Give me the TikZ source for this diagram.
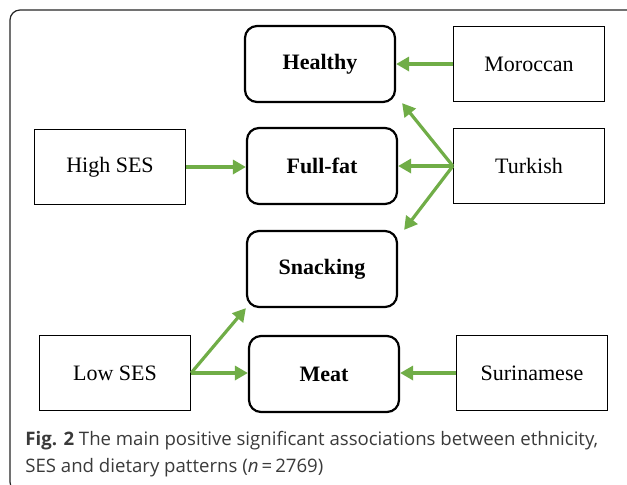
\documentclass[tikz,border=0pt]{standalone}
\usepackage{fontspec}
\setmainfont{Liberation Serif}
\newfontfamily\captionfont{Open Sans}
\usetikzlibrary{arrows.meta}
\definecolor{assocgreen}{HTML}{70AD47}
\definecolor{captiongray}{HTML}{3A3A3A}

\begin{document}
\begin{tikzpicture}[x=0.5pt, y=-0.5pt,
    factorbox/.style={rectangle, draw, line width=0.6pt, minimum width=75.5pt, minimum height=37.5pt, font=\fontsize{11}{13}\selectfont},
    dietbox/.style={rectangle, draw, rounded corners=6pt, line width=1.1pt, minimum width=75pt, minimum height=38pt, font=\fontsize{11}{13}\selectfont\bfseries},
    assoc/.style={draw=assocgreen, line width=1.6pt, -{Triangle[length=6.5pt,width=7pt]}}]
    \useasboundingbox (0,0) rectangle (627,484);
    % Frame
    \draw[black!85, line width=0.6pt, rounded corners=5pt] (10,10) rectangle (640,492);
    
    % Dietary patterns
    \node[dietbox] (healthy) at (320,64) {Healthy};
    \node[dietbox] (fullfat) at (322,166) {Full-fat};
    \node[dietbox] (snacking) at (322,269) {Snacking};
    \node[dietbox] (meat) at (324,374) {Meat};
    
    % Ethnicity and SES
    \node[factorbox] (moroccan) at (529,64) {Moroccan};
    \node[factorbox] (turkish) at (529,166) {Turkish};
    \node[factorbox] (surinamese) at (532,373) {Surinamese};
    \node[factorbox] (highses) at (110,167) {High SES};
    \node[factorbox] (lowses) at (115,373) {Low SES};
    
    % Arrow ends off the box corners
    \coordinate (healthytip) at ([xshift=3pt]healthy.south east);
    \coordinate (snackingtip) at ([xshift=3pt]snacking.north east);
    
    % Associations
    \foreach \a/\b in {moroccan.west/healthy.east,
                       highses.east/{highses.east -| fullfat.west},
                       turkish.west/fullfat.east,
                       turkish.west/healthytip,
                       turkish.west/snackingtip,
                       lowses.east/snacking.south west,
                       lowses.east/{lowses.east -| meat.west},
                       surinamese.west/{surinamese.west -| meat.east}} {
        \draw[assoc] (\a) -- (\b);
    }
    
    % Caption
    \node[anchor=base west, align=left, inner sep=0pt, text=captiongray,
          font=\captionfont\fontsize{9.3}{13.5}\selectfont] (caption) at (25,472)
        {\textbf{Fig. 2} The main positive significant associations between ethnicity,\\
         SES and dietary patterns (\textit{n}\,=\,2769)};
\end{tikzpicture}
\end{document}
